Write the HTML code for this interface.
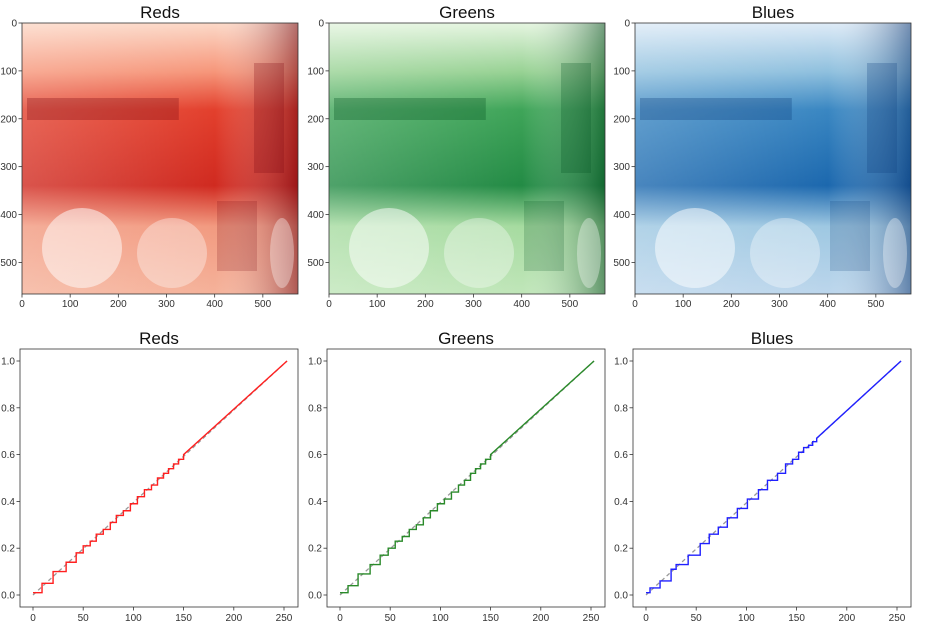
<!DOCTYPE html>
<html><head><meta charset="utf-8">
<style>
html,body{margin:0;padding:0;background:#fff;width:933px;height:629px;overflow:hidden;font-family:"Liberation Sans","DejaVu Sans",sans-serif}
svg{display:block}
</style></head>
<body>
<svg id="fig" width="933" height="629" xmlns="http://www.w3.org/2000/svg">
<defs>
<linearGradient id="rTop" x1="0" y1="0" x2="0" y2="1">
<stop offset="0" stop-color="#fcd9c8"/><stop offset="0.18" stop-color="#f6967a"/><stop offset="0.32" stop-color="#e3402d"/><stop offset="0.6" stop-color="#d02a20"/><stop offset="0.75" stop-color="#f29a80"/><stop offset="1" stop-color="#f5b29a"/></linearGradient>
<linearGradient id="gTop" x1="0" y1="0" x2="0" y2="1">
<stop offset="0" stop-color="#e5f5e0"/><stop offset="0.18" stop-color="#98d294"/><stop offset="0.32" stop-color="#3fa559"/><stop offset="0.6" stop-color="#238b45"/><stop offset="0.75" stop-color="#a6dba0"/><stop offset="1" stop-color="#c0e6b9"/></linearGradient>
<linearGradient id="bTop" x1="0" y1="0" x2="0" y2="1">
<stop offset="0" stop-color="#deebf7"/><stop offset="0.18" stop-color="#8fc0de"/><stop offset="0.32" stop-color="#3a87c2"/><stop offset="0.6" stop-color="#1c68ae"/><stop offset="0.75" stop-color="#9ec8e2"/><stop offset="1" stop-color="#bcd6ec"/></linearGradient>
<linearGradient id="rSide" x1="0" y1="0" x2="1" y2="0"><stop offset="0" stop-color="#fff" stop-opacity="0.2"/><stop offset="0.7" stop-color="#fff" stop-opacity="0"/><stop offset="1" stop-color="#67000d" stop-opacity="0.5"/></linearGradient>
<linearGradient id="gSide" x1="0" y1="0" x2="1" y2="0"><stop offset="0" stop-color="#fff" stop-opacity="0.2"/><stop offset="0.7" stop-color="#fff" stop-opacity="0"/><stop offset="1" stop-color="#00441b" stop-opacity="0.5"/></linearGradient>
<linearGradient id="bSide" x1="0" y1="0" x2="1" y2="0"><stop offset="0" stop-color="#fff" stop-opacity="0.2"/><stop offset="0.7" stop-color="#fff" stop-opacity="0"/><stop offset="1" stop-color="#08306b" stop-opacity="0.5"/></linearGradient>
</defs>
</svg>
<script>
// Image panel tick data
const imgTicks = [0, 100, 200, 300, 400, 500];
const imgW = 573, imgH = 566;
// CDF chart data
const cdfXTicks = [0, 50, 100, 150, 200, 250];
const cdfYTicks = [0.0, 0.2, 0.4, 0.6, 0.8, 1.0];
const redsStepX = [0, 9, 20, 33, 43, 50, 57, 63, 70, 77, 83, 90, 97, 104, 111, 118, 124, 130, 135, 140, 145, 150, 253];
const redsStepY = [0.01, 0.05, 0.10, 0.14, 0.18, 0.21, 0.23, 0.26, 0.28, 0.31, 0.34, 0.36, 0.39, 0.42, 0.45, 0.47, 0.50, 0.52, 0.54, 0.56, 0.58, 0.60, 1.0];
const greensStepX = [0, 8, 18, 30, 40, 48, 55, 62, 69, 76, 83, 90, 97, 104, 111, 118, 124, 130, 135, 140, 145, 150, 253];
const greensStepY = [0.01, 0.04, 0.09, 0.13, 0.17, 0.20, 0.23, 0.25, 0.28, 0.30, 0.33, 0.36, 0.39, 0.41, 0.44, 0.47, 0.49, 0.52, 0.54, 0.56, 0.58, 0.60, 1.0];
const bluesStepX = [0, 4, 14, 25, 30, 42, 54, 63, 72, 81, 91, 101, 112, 121, 131, 139, 146, 152, 157, 162, 166, 170, 254];
const bluesStepY = [0.01, 0.03, 0.06, 0.11, 0.13, 0.17, 0.22, 0.26, 0.29, 0.33, 0.37, 0.41, 0.45, 0.49, 0.52, 0.56, 0.58, 0.61, 0.63, 0.64, 0.655, 0.67, 1.0];

const NS = "http://www.w3.org/2000/svg";
const svg = document.getElementById('fig');
function mk(tag, attrs, parent) {
  const e = document.createElementNS(NS, tag);
  for (const k in attrs) e.setAttribute(k, attrs[k]);
  (parent || svg).appendChild(e);
  return e;
}
function txt(s, attrs, parent) { const t = mk('text', attrs, parent); t.textContent = s; return t; }

const panels = [
  {name:'reds', title:'Reds', ix:22, grad:'rTop', side:'rSide', dark:'#7a0510', ax:20, sx:redsStepX, sy:redsStepY, color:'#ff2020'},
  {name:'greens', title:'Greens', ix:329, grad:'gTop', side:'gSide', dark:'#00501f', ax:327, sx:greensStepX, sy:greensStepY, color:'#2a8a2a'},
  {name:'blues', title:'Blues', ix:635, grad:'bTop', side:'bSide', dark:'#0a3a7a', ax:633, sx:bluesStepX, sy:bluesStepY, color:'#2020ff'}
];

panels.forEach(p => {
  const iy0 = 23, iw = 276, ih = 271;
  const g = mk('g', {});
  
  
  const sxI = v => p.ix + v / imgW * iw;
  const syI = v => iy0 + v / imgH * ih;
  mk('rect', {x:p.ix, y:iy0, width:iw, height:ih, fill:'url(#' + p.grad + ')'}, g);
  mk('rect', {x:p.ix, y:iy0, width:iw, height:ih, fill:'url(#' + p.side + ')'}, g);
  mk('rect', {x:p.ix + 5, y:iy0 + 75, width:iw * 0.55, height:22, fill:p.dark, opacity:0.3}, g);
  mk('rect', {x:p.ix + 232, y:iy0 + 40, width:30, height:110, fill:p.dark, opacity:0.25}, g);
  mk('rect', {x:p.ix + 195, y:iy0 + 178, width:40, height:70, fill:p.dark, opacity:0.2}, g);
  mk('ellipse', {cx:p.ix + 60, cy:iy0 + 225, rx:40, ry:40, fill:'#fff', opacity:0.5}, g);
  mk('ellipse', {cx:p.ix + 150, cy:iy0 + 230, rx:35, ry:35, fill:'#fff', opacity:0.35}, g);
  mk('ellipse', {cx:p.ix + 260, cy:iy0 + 230, rx:12, ry:35, fill:'#fff', opacity:0.35}, g);
  mk('rect', {x:p.ix, y:iy0, width:iw, height:ih, fill:'none', stroke:'#333', 'stroke-width':0.8}, g);
  imgTicks.forEach(v => {
    const x = sxI(v), y = syI(v);
    mk('line', {x1:x, y1:iy0 + ih, x2:x, y2:iy0 + ih + 3.5, stroke:'#333', 'stroke-width':0.8}, g);
    txt(String(v), {x:x, y:iy0 + ih + 13, 'font-size':10, fill:'#333', 'text-anchor':'middle'}, g);
    mk('line', {x1:p.ix - 3.5, y1:y, x2:p.ix, y2:y, stroke:'#333', 'stroke-width':0.8}, g);
    txt(String(v), {x:p.ix - 5, y:y + 3.5, 'font-size':10, fill:'#333', 'text-anchor':'end'}, g);
  });
  const t1 = txt(p.title, {x:p.ix + iw / 2, y:18, 'font-size':17, fill:'#111', 'text-anchor':'middle'});
  
  

  const ax0 = p.ax, ax1 = p.ax + 278, ay0 = 349, ay1 = 607;
  const X = v => ax0 + 13 + v / 250 * 251;
  const Y = v => 595 - v * 234;
  const c = mk('g', {});
  
  
  mk('rect', {x:ax0, y:ay0, width:ax1 - ax0, height:ay1 - ay0, fill:'#fff', stroke:'#333', 'stroke-width':0.8}, c);
  cdfXTicks.forEach(v => {
    mk('line', {x1:X(v), y1:ay1, x2:X(v), y2:ay1 + 3.5, stroke:'#333', 'stroke-width':0.8}, c);
    txt(String(v), {x:X(v), y:ay1 + 14, 'font-size':10, fill:'#333', 'text-anchor':'middle'}, c);
  });
  cdfYTicks.forEach(v => {
    mk('line', {x1:ax0 - 3.5, y1:Y(v), x2:ax0, y2:Y(v), stroke:'#333', 'stroke-width':0.8}, c);
    txt(v.toFixed(1), {x:ax0 - 5, y:Y(v) + 3.5, 'font-size':10, fill:'#333', 'text-anchor':'end'}, c);
  });
  const diag = mk('line', {x1:X(0), y1:Y(0), x2:X(p.sx[p.sx.length - 1]), y2:Y(1), stroke:'#999', 'stroke-width':1.3, 'stroke-dasharray':'4,3'}, c);
  
  
  let d = 'M' + X(p.sx[0]) + ',' + Y(p.sy[0]);
  for (let i = 1; i < p.sx.length; i++) {
    if (i === p.sx.length - 1) {
      d += ' L' + X(p.sx[i]) + ',' + Y(p.sy[i]);
    } else {
      d += ' H' + X(p.sx[i]) + ' V' + Y(p.sy[i]);
    }
  }
  const line = mk('path', {d:d, fill:'none', stroke:p.color, 'stroke-width':1.4}, c);
  
  
  const t2 = txt(p.title, {x:(ax0 + ax1) / 2, y:344, 'font-size':17, fill:'#111', 'text-anchor':'middle'});
  
  
});
</script>
</body></html>
